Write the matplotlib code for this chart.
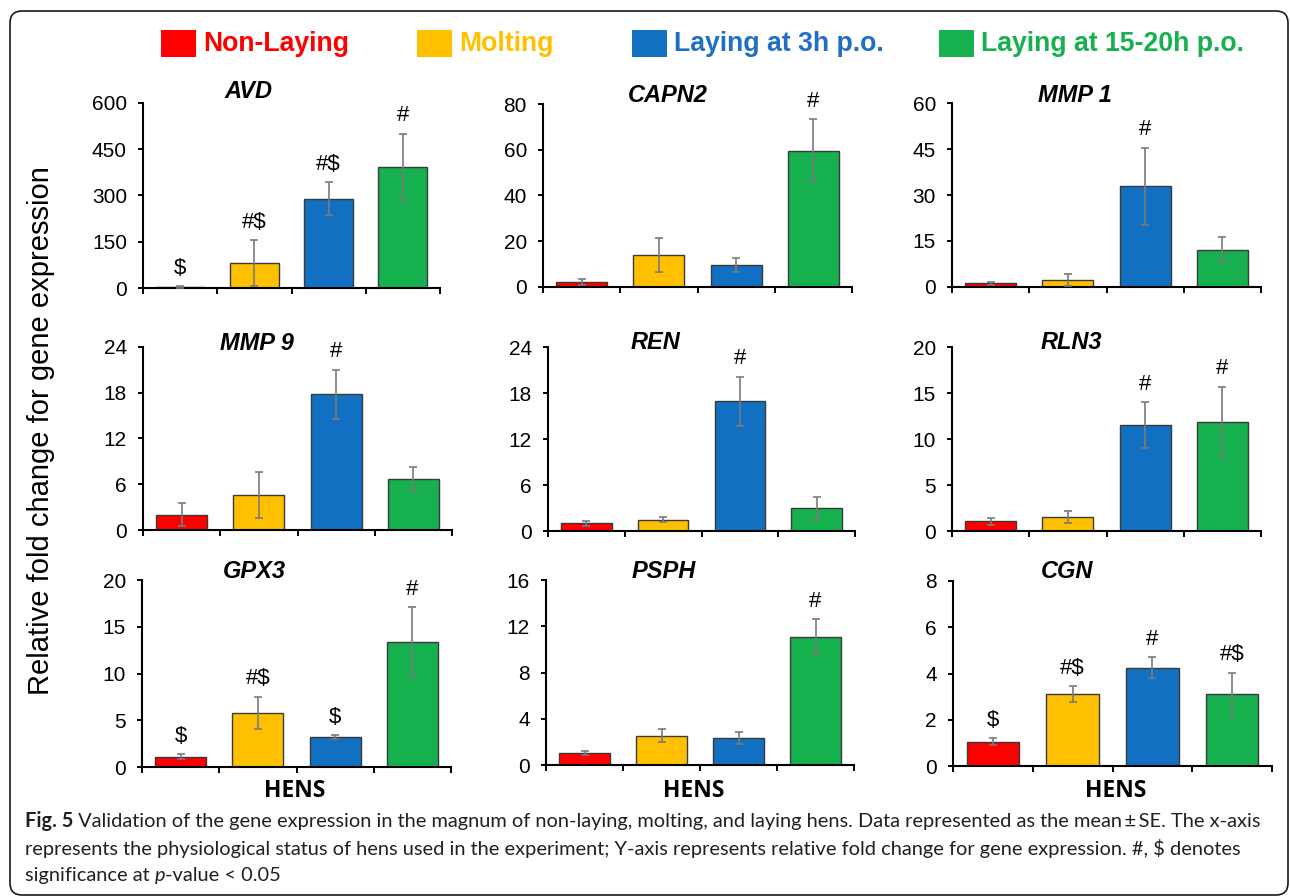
import numpy as np
import matplotlib
matplotlib.use('Agg')
import matplotlib.pyplot as plt
from matplotlib.patches import Rectangle, FancyBboxPatch
from matplotlib.transforms import IdentityTransform
from matplotlib import font_manager

# ---------------- data ----------------
groups = ['Non-Laying', 'Molting', 'Laying at 3h p.o.', 'Laying at 15-20h p.o.']
bar_colors = ['#FF0000', '#FFC000', '#1170C1', '#17B04F']
legend_colors = ['#FF0000', '#FFC000', '#1F6FC2', '#17B04F']

genes = ['AVD', 'CAPN2', 'MMP 1', 'MMP 9', 'REN', 'RLN3', 'GPX3', 'PSPH', 'CGN']

AVD_mean = [3, 80, 290, 393]
AVD_se = [2, 75, 53, 108]
AVD_sig = ['$', '#$', '#$', '#']
AVD_ticks = [0, 150, 300, 450, 600]

CAPN2_mean = [2.2, 13.9, 9.6, 59.6]
CAPN2_se = [1.3, 7.4, 3.2, 13.8]
CAPN2_sig = ['', '', '', '#']
CAPN2_ticks = [0, 20, 40, 60, 80]

MMP1_mean = [1.2, 2.3, 32.8, 12.2]
MMP1_se = [0.4, 1.9, 12.6, 4.2]
MMP1_sig = ['', '', '#', '']
MMP1_ticks = [0, 15, 30, 45, 60]

MMP9_mean = [2.0, 4.6, 17.8, 6.7]
MMP9_se = [1.5, 3.0, 3.2, 1.6]
MMP9_sig = ['', '', '#', '']
MMP9_ticks = [0, 6, 12, 18, 24]

REN_mean = [1.0, 1.5, 16.9, 3.0]
REN_se = [0.3, 0.3, 3.2, 1.45]
REN_sig = ['', '', '#', '']
REN_ticks = [0, 6, 12, 18, 24]

RLN3_mean = [1.05, 1.55, 11.5, 11.9]
RLN3_se = [0.35, 0.65, 2.5, 3.8]
RLN3_sig = ['', '', '#', '#']
RLN3_ticks = [0, 5, 10, 15, 20]

GPX3_mean = [1.1, 5.8, 3.2, 13.4]
GPX3_se = [0.25, 1.7, 0.2, 3.7]
GPX3_sig = ['$', '#$', '$', '#']
GPX3_ticks = [0, 5, 10, 15, 20]

PSPH_mean = [1.05, 2.55, 2.35, 11.1]
PSPH_se = [0.15, 0.6, 0.5, 1.5]
PSPH_sig = ['', '', '', '#']
PSPH_ticks = [0, 4, 8, 12, 16]

CGN_mean = [1.05, 3.1, 4.25, 3.1]
CGN_se = [0.15, 0.35, 0.45, 0.93]
CGN_sig = ['$', '#$', '#', '#$']
CGN_ticks = [0, 2, 4, 6, 8]

xlabel_text = 'HENS'
ylabel_text = 'Relative fold change for gene expression'

means = [AVD_mean, CAPN2_mean, MMP1_mean, MMP9_mean, REN_mean, RLN3_mean, GPX3_mean, PSPH_mean, CGN_mean]
ses = [AVD_se, CAPN2_se, MMP1_se, MMP9_se, REN_se, RLN3_se, GPX3_se, PSPH_se, CGN_se]
sigs = [AVD_sig, CAPN2_sig, MMP1_sig, MMP9_sig, REN_sig, RLN3_sig, GPX3_sig, PSPH_sig, CGN_sig]
ticks_all = [AVD_ticks, CAPN2_ticks, MMP1_ticks, MMP9_ticks, REN_ticks, RLN3_ticks, GPX3_ticks, PSPH_ticks, CGN_ticks]

# ---------------- layout (image pixels, y from top) ----------------
W, H = 1290, 896
boxes = [  # x0, x1, ytop, ybottom
    (143, 440, 103, 288), (543, 852, 104, 287), (952, 1261, 103, 287),
    (143, 452, 347, 530), (548, 855, 347, 531), (952, 1261, 347, 531),
    (142, 451, 580, 767), (546, 854, 580, 765), (953, 1272, 581, 766),
]
title_pos = [(248, 91), (668, 95), (1075, 95), (257, 343), (655, 342), (1071, 342),
             (254, 572), (664, 572), (1067, 572)]
hens_pos = [(295, 791), (694, 791), (1116, 791)]

SANS = 'Liberation Sans'


def has_font(name):
    try:
        font_manager.findfont(font_manager.FontProperties(family=name),
                              fallback_to_default=False)
        return True
    except Exception:
        return False


NARROW = 'Liberation Sans Narrow' if has_font('Liberation Sans Narrow') else None
CAP_FONT = 'Lato' if has_font('Lato') else 'Open Sans'

fig = plt.figure(figsize=(W / 100, H / 100), dpi=100)
fig.patch.set_facecolor('white')
idt = IdentityTransform()
renderer = fig.canvas.get_renderer()


def px(x, y):
    return x, H - y


# frame
fx0, fy0 = px(10, 895)
frame = FancyBboxPatch((fx0, fy0), 1288 - 10, 895 - 11,
                       boxstyle='round,pad=0,rounding_size=12',
                       transform=idt, fill=False, edgecolor='#1a1a1a', linewidth=1.2,
                       clip_on=False)
fig.patches.append(frame)

# legend
leg_sq_x = [161, 417, 632, 939]
leg_txt_end = [349, 556, 885, 1246]
for c, tc, lab, sx, ex in zip(bar_colors, legend_colors, groups, leg_sq_x, leg_txt_end):
    x, y = px(sx, 57)
    fig.patches.append(Rectangle((x, y), 35, 27, transform=idt, facecolor=c,
                                 edgecolor='none', clip_on=False))
    tx, ty = px(sx + 42, 44)
    fam = NARROW if NARROW else SANS
    fsz = 23.0 if NARROW else 19.2
    t = fig.text(tx / W, ty / H, lab, color=tc, fontsize=fsz, fontweight='bold',
                 family=fam, ha='left', va='center')
    if NARROW:
        wt = t.get_window_extent(renderer).width
        t.set_fontsize(fsz * (ex - sx - 42) / wt)

# panels
x = np.arange(4) + 0.5
for i in range(9):
    x0, x1, yt, yb = boxes[i]
    ax = fig.add_axes([x0 / W, 1 - yb / H, (x1 - x0) / W, (yb - yt) / H])
    ax.bar(x, means[i], width=0.66, color=bar_colors, edgecolor='#3a3a3a',
           linewidth=1.0, zorder=2)
    ax.errorbar(x, means[i], yerr=ses[i], fmt='none', ecolor='#7a7a7a',
                elinewidth=1.2, capsize=2.6, capthick=1.2, zorder=3)
    for xi, m, s, t in zip(x, means[i], ses[i], sigs[i]):
        if t:
            ax.annotate(t, (xi, m + s), xytext=(0, 13), textcoords='offset points',
                        ha='center', va='center', fontsize=16, family=SANS,
                        annotation_clip=False, parse_math=False)
    tk = ticks_all[i]
    ax.set_xlim(0, 4)
    ax.set_ylim(tk[0], tk[-1])
    ax.set_yticks(tk)
    ax.set_xticks(range(5))
    ax.set_xticklabels([])
    for s in ['top', 'right']:
        ax.spines[s].set_visible(False)
    for s in ['left', 'bottom']:
        ax.spines[s].set_linewidth(1.5)
        ax.spines[s].set_color('black')
    ax.tick_params(axis='y', direction='out', length=3.6, width=1.4, pad=8,
                   labelsize=15)
    ax.tick_params(axis='x', direction='out', length=4.5, width=1.4)
    for lab in ax.get_yticklabels():
        lab.set_family(SANS)
    ax.patch.set_alpha(0)
    tx, ty = title_pos[i]
    tx, ty = px(tx, ty)
    fig.text(tx / W, ty / H, genes[i], fontsize=17, fontweight='bold',
             fontstyle='italic', family=SANS, ha='center', va='center')

for hx, hy in hens_pos:
    tx, ty = px(hx, hy)
    fig.text(tx / W, ty / H, xlabel_text, fontsize=16.5, fontweight='bold',
             family='Open Sans', ha='center', va='center')

# y label
tx, ty = px(41, 431)
fig.text(tx / W, ty / H, ylabel_text, rotation=90, fontsize=21, family=SANS,
         ha='center', va='center')

# caption
cap_col = '#231F20'
line1a = 'Fig. 5'
line1b = ' Validation of the gene expression in the magnum of non-laying, molting, and laying hens. Data represented as the mean\u2009\u00b1\u2009SE. The x-axis'
line2 = 'represents the physiological status of hens used in the experiment; Y-axis represents relative fold change for gene expression. #, $ denotes'
line3a = 'significance at '
line3b = 'p'
line3c = '-value < 0.05'

fs0 = 12.0
t_a = fig.text(0, 0, line1a, fontsize=fs0, family=CAP_FONT, fontweight='bold')
t_b = fig.text(0, 0, line1b, fontsize=fs0, family=CAP_FONT, parse_math=False)
wa = t_a.get_window_extent(renderer).width
wb = t_b.get_window_extent(renderer).width
t_a.remove(); t_b.remove()
fs = fs0 * (1260 - 25) / (wa + wb)

cap_x = 25
cap_y = [821, 848, 875]


def put(xpix, ypix, s, **kw):
    X, Y = px(xpix, ypix)
    t = fig.text(X / W, Y / H, s, fontsize=fs, family=CAP_FONT, color=cap_col,
                 ha='left', va='center', parse_math=False, **kw)
    return t.get_window_extent(renderer).width


w = put(cap_x, cap_y[0], line1a, fontweight='bold')
put(cap_x + w, cap_y[0], line1b)
put(cap_x, cap_y[1], line2)
w1 = put(cap_x, cap_y[2], line3a)
w2 = put(cap_x + w1, cap_y[2], line3b, fontstyle='italic')
put(cap_x + w1 + w2, cap_y[2], line3c)

fig.savefig('out.png', dpi=100, facecolor='white')
